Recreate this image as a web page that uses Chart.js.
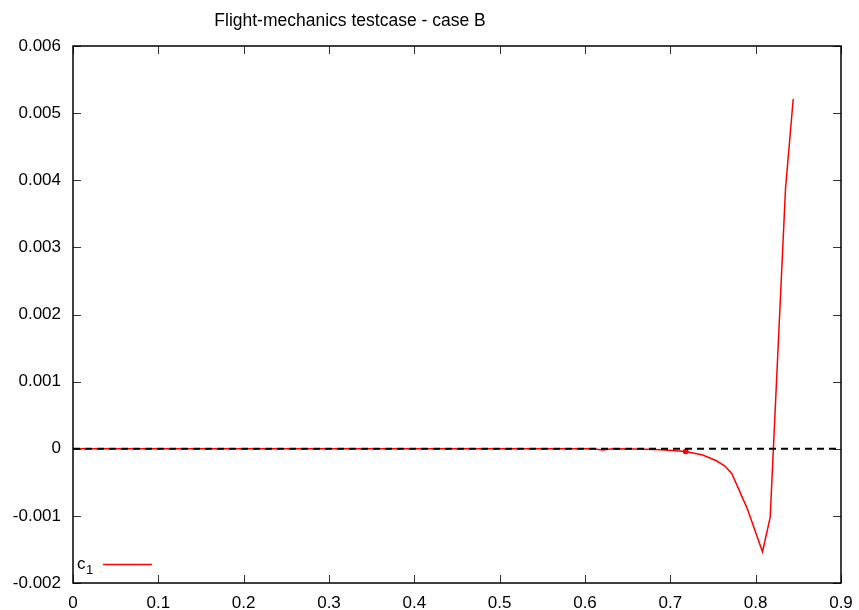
<!DOCTYPE html>
<html><head><meta charset="utf-8">
<script src="https://cdn.jsdelivr.net/npm/chart.js@4/dist/chart.umd.min.js"></script>
<style>html,body{margin:0;padding:0;background:#fff;} #wrap{width:859px;height:610px;position:relative;}</style>
</head><body><div id="wrap"><canvas id="c" width="859" height="610"></canvas></div>
<script>
const chartTitle = 'Flight-mechanics testcase - case B';
const seriesLabel = 'c';
const seriesSub = '1';
const xTicks = [0, 0.1, 0.2, 0.3, 0.4, 0.5, 0.6, 0.7, 0.8, 0.9];
const xTickLabels = ['0', '0.1', '0.2', '0.3', '0.4', '0.5', '0.6', '0.7', '0.8', '0.9'];
const yTicks = [-0.002, -0.001, 0, 0.001, 0.002, 0.003, 0.004, 0.005, 0.006];
const yTickLabels = ['-0.002', '-0.001', '0', '0.001', '0.002', '0.003', '0.004', '0.005', '0.006'];
const c1X = [0, 0.1, 0.2, 0.3, 0.4, 0.5, 0.6, 0.61, 0.62, 0.632, 0.66, 0.69, 0.718, 0.738, 0.754, 0.764, 0.772, 0.790, 0.808, 0.817, 0.835, 0.844];
const c1Y = [0, 0, 0, 0, 0, 0, 0, 0, -0.00002, 0, -0.000005, -0.000015, -0.00004, -0.000094, -0.000179, -0.000258, -0.000367, -0.000888, -0.001535, -0.001022, 0.00388, 0.00521];
const markX = [0.718];
const markY = [-0.00004];
const zeroX = [0, 0.9];
const zeroY = [0, 0];

const FONT = '"Liberation Sans", Arial, sans-serif';
const toPts = (xs, ys) => xs.map((x, i) => ({x: x, y: ys[i]}));

const framePlugin = {
  id: 'frame',
  beforeDatasetsDraw(chart) {
    const ctx = chart.ctx, a = chart.chartArea;
    const xs = chart.scales.x, ys = chart.scales.y;
    ctx.save();
    ctx.strokeStyle = '#333';
    ctx.lineWidth = 1;
    const TL = 8;
    ctx.beginPath();
    xTicks.forEach(v => {
      const p = Math.round(xs.getPixelForValue(v)) + 0.5;
      ctx.moveTo(p, a.bottom); ctx.lineTo(p, a.bottom - TL);
      ctx.moveTo(p, a.top); ctx.lineTo(p, a.top + TL);
    });
    yTicks.forEach(v => {
      const p = Math.round(ys.getPixelForValue(v)) + 0.5;
      ctx.moveTo(a.left, p); ctx.lineTo(a.left + TL, p);
      ctx.moveTo(a.right, p); ctx.lineTo(a.right - TL, p);
    });
    ctx.stroke();
    ctx.restore();
  },
  afterDraw(chart) {
    const ctx = chart.ctx, a = chart.chartArea;
    ctx.save();
    ctx.strokeStyle = '#000';
    ctx.lineWidth = 1.5;
    ctx.strokeRect(a.left, a.top, a.right - a.left, a.bottom - a.top);
    // title
    ctx.fillStyle = '#000';
    ctx.font = '17.5px ' + FONT;
    ctx.textAlign = 'center';
    ctx.textBaseline = 'alphabetic';
    ctx.fillText(chartTitle, 350, 26);
    // legend
    ctx.textAlign = 'left';
    ctx.font = '17px ' + FONT;
    ctx.fillText(seriesLabel, 77, 569);
    ctx.font = '13px ' + FONT;
    ctx.fillText(seriesSub, 86, 574);
    ctx.strokeStyle = '#ff0000';
    ctx.lineWidth = 1.5;
    ctx.beginPath();
    ctx.moveTo(103, 564.5); ctx.lineTo(152, 564.5);
    ctx.stroke();
    ctx.restore();
  }
};

new Chart(document.getElementById('c'), {
  type: 'scatter',
  data: {
    datasets: [
      { label: 'zero', data: toPts(zeroX, zeroY), showLine: true, borderColor: '#000', borderWidth: 2, borderDash: [7, 5], pointRadius: 0, order: 0 },
      { label: 'c1', data: toPts(c1X, c1Y), showLine: true, borderColor: '#ff0000', borderWidth: 1.5, pointRadius: 0, tension: 0, order: 1 },
      { label: 'mark', data: toPts(markX, markY), showLine: false, backgroundColor: '#ff0000', borderColor: '#ff0000', pointRadius: 2.5, order: 2 }
    ]
  },
  options: {
    responsive: false,
    animation: false,
    devicePixelRatio: 1,
    layout: { padding: { top: 46, right: 18, left: 0, bottom: 0 } },
    plugins: { legend: { display: false }, tooltip: { enabled: false }, title: { display: false } },
    scales: {
      x: {
        type: 'linear', min: 0, max: 0.9,
        afterBuildTicks: s => { s.ticks = xTicks.map(v => ({value: v})); },
        afterFit: s => { s.height = 27; },
        ticks: { callback: (v, i) => xTickLabels[i], color: '#000', font: { family: FONT, size: 17 }, padding: 2, maxRotation: 0, autoSkip: false },
        grid: { display: false }, border: { display: false }
      },
      y: {
        type: 'linear', min: -0.002, max: 0.006,
        afterBuildTicks: s => { s.ticks = yTicks.map(v => ({value: v})); },
        afterFit: s => { s.width = 73; },
        ticks: { callback: (v, i) => yTickLabels[i], color: '#000', font: { family: FONT, size: 17 }, padding: 4, autoSkip: false },
        grid: { display: false }, border: { display: false }
      }
    }
  },
  plugins: [framePlugin]
});
</script></body></html>
